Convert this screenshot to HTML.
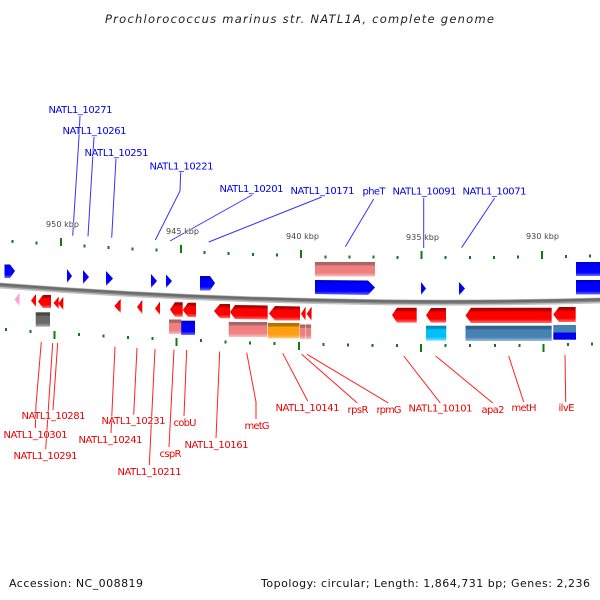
<!DOCTYPE html>
<html><head><meta charset="utf-8"><style>
html,body{margin:0;padding:0;background:#fff;width:600px;height:600px;overflow:hidden}
svg{display:block}
text{font-family:"DejaVu Sans","Liberation Sans",sans-serif}
.b text{font-size:10px;fill:#0000ee;paint-order:stroke;stroke:#fff;stroke-width:1.5px;stroke-opacity:.6}
.r text{font-size:10px;fill:#ee0000;paint-order:stroke;stroke:#fff;stroke-width:1.5px;stroke-opacity:.6}
.k text{font-size:8px;fill:#444;paint-order:stroke;stroke:#fff;stroke-width:1.5px;stroke-opacity:.7}
.f text{font-size:11px;fill:#111}
</style></head><body>
<svg width="600" height="600" viewBox="0 0 600 600" xmlns="http://www.w3.org/2000/svg">
<defs>
<linearGradient id="gr" x1="0" y1="0" x2="0" y2="1"><stop offset="0" stop-color="#a80000"/><stop offset=".22" stop-color="#b80000"/><stop offset=".25" stop-color="#ff0000"/><stop offset=".75" stop-color="#ff0000"/><stop offset="1" stop-color="#ff7070"/></linearGradient>
<linearGradient id="gb" x1="0" y1="0" x2="0" y2="1"><stop offset="0" stop-color="#0000c0"/><stop offset=".2" stop-color="#0000e0"/><stop offset=".25" stop-color="#0000ff"/><stop offset=".75" stop-color="#0000ff"/><stop offset="1" stop-color="#7070ff"/></linearGradient>
<linearGradient id="gs" x1="0" y1="0" x2="0" y2="1"><stop offset="0" stop-color="#a86060"/><stop offset=".22" stop-color="#b06a6a"/><stop offset=".25" stop-color="#f08080"/><stop offset=".75" stop-color="#f08080"/><stop offset="1" stop-color="#fac0c0"/></linearGradient>
<linearGradient id="go" x1="0" y1="0" x2="0" y2="1"><stop offset="0" stop-color="#b06f00"/><stop offset=".22" stop-color="#b87a00"/><stop offset=".25" stop-color="#ff9e10"/><stop offset=".75" stop-color="#ff9e10"/><stop offset="1" stop-color="#ffc870"/></linearGradient>
<linearGradient id="gc" x1="0" y1="0" x2="0" y2="1"><stop offset="0" stop-color="#0088b8"/><stop offset=".22" stop-color="#0098c8"/><stop offset=".25" stop-color="#00bfff"/><stop offset=".75" stop-color="#00bfff"/><stop offset="1" stop-color="#80e0ff"/></linearGradient>
<linearGradient id="gt" x1="0" y1="0" x2="0" y2="1"><stop offset="0" stop-color="#2f5f85"/><stop offset=".22" stop-color="#33648c"/><stop offset=".25" stop-color="#4682b4"/><stop offset=".75" stop-color="#4682b4"/><stop offset="1" stop-color="#a0c0da"/></linearGradient>
<linearGradient id="gy" x1="0" y1="0" x2="0" y2="1"><stop offset="0" stop-color="#444"/><stop offset=".22" stop-color="#4a4a4a"/><stop offset=".25" stop-color="#696969"/><stop offset=".75" stop-color="#696969"/><stop offset="1" stop-color="#b0b0b0"/></linearGradient>
<linearGradient id="gp" x1="0" y1="0" x2="0" y2="1"><stop offset="0" stop-color="#d080b0"/><stop offset=".25" stop-color="#ffa0d0"/><stop offset=".75" stop-color="#ffa0d0"/><stop offset="1" stop-color="#ffd0e8"/></linearGradient>
</defs>

<text x="105" y="23" font-size="11.5" font-style="italic" fill="#222" textLength="389">Prochlorococcus marinus str. NATL1A, complete genome</text>

<!-- backbone -->
<path d="M0 285.5Q300 308.5 600 300.5" fill="none" stroke="#c4c4c4" stroke-width="6"/>
<path d="M0 285Q300 308 600 300" fill="none" stroke="#8a8a8a" stroke-width="4"/>
<path d="M0 284.5Q300 307.5 600 299.5" fill="none" stroke="#6a6a6a" stroke-width="2"/>

<!-- ticks -->
<g fill="#117a11">
<rect x="11.5" y="240" width="2" height="3"/><rect x="35.5" y="241.5" width="2" height="3"/><rect x="60" y="238" width="2" height="8"/><rect x="83.5" y="244.5" width="2" height="3"/><rect x="107.5" y="246" width="2" height="3"/><rect x="131.5" y="247.5" width="2" height="3"/><rect x="155.5" y="248.5" width="2" height="3"/><rect x="180" y="245" width="2" height="8"/><rect x="203.5" y="251" width="2" height="3"/><rect x="227.5" y="252" width="2" height="3"/><rect x="252" y="253" width="2" height="3"/><rect x="276" y="253.5" width="2" height="3"/><rect x="300" y="250" width="2" height="8"/><rect x="324.5" y="255.5" width="2" height="3"/><rect x="348.5" y="255.5" width="2" height="3"/><rect x="372.5" y="255.5" width="2" height="3"/><rect x="396.5" y="256" width="2" height="3"/><rect x="420.5" y="251" width="2" height="8"/><rect x="444.5" y="256" width="2" height="3"/><rect x="469" y="256" width="2" height="3"/><rect x="493" y="256" width="2" height="3"/><rect x="517" y="255.5" width="2" height="3"/><rect x="541" y="251" width="2" height="8"/><rect x="565" y="255" width="2" height="3"/><rect x="589" y="254.5" width="2" height="3"/>
<rect x="5" y="328" width="2" height="3"/><rect x="29.5" y="330" width="2" height="3"/><rect x="53.5" y="331" width="2" height="8"/><rect x="78" y="333" width="2" height="3"/><rect x="102.5" y="334.5" width="2" height="3"/><rect x="127" y="336" width="2" height="3"/><rect x="151.5" y="337" width="2" height="3"/><rect x="175.5" y="338" width="2" height="8"/><rect x="200" y="339" width="2" height="3"/><rect x="224.5" y="340.5" width="2" height="3"/><rect x="249" y="341.5" width="2" height="3"/><rect x="273.5" y="342" width="2" height="3"/><rect x="298" y="342" width="2" height="8"/><rect x="322.5" y="343" width="2" height="3"/><rect x="347" y="343.5" width="2" height="3"/><rect x="371.5" y="344" width="2" height="3"/><rect x="396" y="344" width="2" height="3"/><rect x="420" y="344" width="2" height="8"/><rect x="444.5" y="344" width="2" height="3"/><rect x="469" y="344" width="2" height="3"/><rect x="494" y="344" width="2" height="3"/><rect x="518.5" y="344" width="2" height="3"/><rect x="542.5" y="344" width="2" height="8"/><rect x="567" y="343" width="2" height="3"/><rect x="591" y="342.5" width="2" height="3"/>
</g>

<!-- top genes -->
<g fill="url(#gb)">
<path d="M4.5 264.5H10L15 271L10 278H4.5Z"/>
<path d="M67 269L72 276L67 283Z"/><path d="M83 270L89 277L83 284Z"/><path d="M106 271L113 278.5L106 286Z"/>
<path d="M151 274L157 281L151 288Z"/><path d="M166 274.5L172 281L166 288Z"/>
<path d="M200 276H210L215 283L210 290.5H200Z"/>
<path d="M315 280L368 280.5L375 287.5L368 295L315 294Z"/>
<path d="M421 282L426 288.5L421 295Z"/><path d="M459 282L465 288.5L459 295.5Z"/>
<rect x="576" y="262" width="24" height="14"/><rect x="576" y="280" width="24" height="14.5"/>
</g>
<rect x="315" y="262" width="60" height="14.5" fill="url(#gs)"/>

<!-- bottom genes -->
<path d="M19.5 293L14.5 299.5L19.5 306Z" fill="url(#gp)"/>
<g fill="url(#gr)">
<path d="M36 294L31 300.5L36 307Z"/>
<path d="M43 295H51V308H43L38 301.5Z"/>
<path d="M58.7 296.7L53.5 303L58.7 309Z"/><path d="M63.3 297L58.3 303.5L63.3 310Z"/>
<path d="M120.7 299L114.3 306L120.7 313Z"/><path d="M142.3 300L137 307L142.3 314Z"/><path d="M160 301.6L155 308.5L160 315Z"/>
<path d="M175 302.3H182.7V316.7H175L170 309.5Z"/><path d="M188 302.7H196V317H188L182.7 310Z"/>
<path d="M220 304H230V318.3H220L214 311Z"/>
<path d="M235 305L267.7 305.5V319.5L235 319L230 312Z"/>
<path d="M275 306L300 306.5V320.5L275 320.5L269 313.5Z"/>
<path d="M305.6 306.7L301 313.7L305.6 320.7Z"/><path d="M311.6 306.7L306.6 313.7L311.6 320.7Z"/>
<path d="M397 307.7H416.7V322.6H397L392 315Z"/>
<path d="M431 308H446V322.6H431L426 315.3Z"/>
<path d="M471 307.7H551.7V323H471L465.5 315.5Z"/>
<path d="M559 307H575.7V322H559L553.3 314.5Z"/>
</g>
<rect x="35.7" y="312.3" width="14.3" height="14.4" fill="url(#gy)"/>
<rect x="169" y="319.5" width="12.3" height="14.5" fill="url(#gs)"/>
<rect x="181.2" y="320.7" width="13.8" height="14.3" fill="url(#gb)"/>
<rect x="228.7" y="322" width="38.6" height="15" fill="url(#gs)"/>
<rect x="268" y="323" width="31.5" height="15.3" fill="url(#go)"/>
<rect x="300" y="324.5" width="5.3" height="14.5" fill="url(#gs)"/>
<rect x="305.8" y="324.5" width="5.3" height="14.5" fill="url(#gs)"/>
<rect x="426" y="325.7" width="20.3" height="15" fill="url(#gc)"/>
<rect x="465.5" y="325.7" width="86.2" height="15.3" fill="url(#gt)"/>
<rect x="553.3" y="325" width="22.7" height="7.5" fill="#4682b4"/>
<rect x="553.3" y="332.5" width="22.7" height="7.2" fill="#0000ee"/>

<!-- connectors -->
<g fill="none" stroke="#3333ff" stroke-width="1">
<path d="M80 116L79 137L72.7 235.7"/>
<path d="M94 137L92.7 158L88 236.3"/>
<path d="M116 158.3L111.7 237.7"/>
<path d="M180.7 172L180 191L155.3 240"/>
<path d="M252 195L170 241"/>
<path d="M321.7 197L208.7 242"/>
<path d="M373.7 199L345.3 246.7"/>
<path d="M423.7 198V248"/>
<path d="M494.7 198L461.5 247.7"/>
</g>
<g fill="none" stroke="#ff2020" stroke-width="1">
<path d="M41.3 342L36 405L35.3 428"/>
<path d="M52.7 343L45.7 449"/>
<path d="M57.7 343L53 410"/>
<path d="M115 346.7L111 433"/>
<path d="M137 348L133.7 414.7"/>
<path d="M155 349L149.3 465"/>
<path d="M174 349.5L169 447"/>
<path d="M186.7 350L184 416"/>
<path d="M219.7 351.5L216 438"/>
<path d="M246.7 352.7L256 402V419"/>
<path d="M282.7 353.3L307.7 401"/>
<path d="M301.7 354.3L357.3 403"/>
<path d="M307 354.3L388.3 403"/>
<path d="M403.7 356L440.3 403"/>
<path d="M435.7 356L492.7 403"/>
<path d="M508.7 356L523.7 402"/>
<path d="M565 355L565.7 402"/>
</g>

<!-- scale labels -->
<g class="k">
<text x="46" y="227" textLength="33">950 kbp</text>
<text x="166" y="234" textLength="33">945 kbp</text>
<text x="286" y="239" textLength="33">940 kbp</text>
<text x="406" y="240" textLength="33">935 kbp</text>
<text x="526" y="239" textLength="33">930 kbp</text>
</g>

<g class="b">
<text x="48.5" y="113" textLength="64">NATL1_10271</text>
<text x="62.5" y="134" textLength="64">NATL1_10261</text>
<text x="84.5" y="156" textLength="64">NATL1_10251</text>
<text x="149.5" y="169.5" textLength="64">NATL1_10221</text>
<text x="219.5" y="192" textLength="64">NATL1_10201</text>
<text x="290.5" y="194" textLength="64">NATL1_10171</text>
<text x="362.5" y="194.5" textLength="23">pheT</text>
<text x="392.5" y="194.5" textLength="64">NATL1_10091</text>
<text x="462.5" y="194.5" textLength="64">NATL1_10071</text>
</g>
<g class="r">
<text x="21.5" y="419" textLength="64">NATL1_10281</text>
<text x="3.5" y="438" textLength="64">NATL1_10301</text>
<text x="13.5" y="459" textLength="64">NATL1_10291</text>
<text x="101.5" y="424" textLength="64">NATL1_10231</text>
<text x="78.5" y="443" textLength="64">NATL1_10241</text>
<text x="117.5" y="475" textLength="64">NATL1_10211</text>
<text x="159.5" y="457" textLength="22">cspR</text>
<text x="173.5" y="426" textLength="23">cobU</text>
<text x="184.5" y="448" textLength="64">NATL1_10161</text>
<text x="244.5" y="429" textLength="25">metG</text>
<text x="275.5" y="411" textLength="64">NATL1_10141</text>
<text x="347.5" y="413" textLength="21">rpsR</text>
<text x="376.5" y="413" textLength="25">rpmG</text>
<text x="408.5" y="411.5" textLength="64">NATL1_10101</text>
<text x="481.5" y="413" textLength="23">apa2</text>
<text x="511.5" y="411" textLength="25">metH</text>
<text x="558.5" y="411" textLength="16">ilvE</text>
</g>

<g class="f">
<text x="9" y="587" textLength="134">Accession: NC_008819</text>
<text x="261" y="587" textLength="329">Topology: circular; Length: 1,864,731 bp; Genes: 2,236</text>
</g>
</svg>
</body></html>
